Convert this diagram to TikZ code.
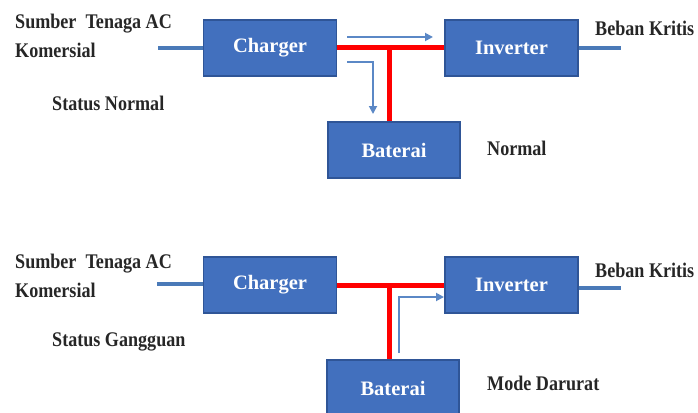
\documentclass[tikz,border=0pt]{standalone}
\usepackage{fontspec}
\setmainfont{Liberation Serif}
\newfontfamily\lblfont[FakeStretch=0.87]{Liberation Serif}
\usetikzlibrary{arrows.meta}
\definecolor{boxfill}{HTML}{4270BE}
\definecolor{boxedge}{HTML}{2F5597}
\definecolor{wire}{HTML}{4A7AB8}
\definecolor{flow}{HTML}{5B88C6}
\definecolor{bus}{HTML}{FF0000}
\tikzset{
  blk/.style={draw=boxedge, line width=1.5pt, fill=boxfill, minimum width=133pt, minimum height=56pt,
    inner sep=0pt, text=white, font=\fontsize{20.5}{22}\selectfont\bfseries},
  lbl/.style={anchor=base west, inner sep=0pt, font=\lblfont\fontsize{20.8}{22}\selectfont\bfseries, text=black!85},
  wireline/.style={draw=wire, line width=4pt},
  busline/.style={draw=bus, line width=5pt},
  flowarrow/.style={draw=flow, line width=1.8pt, -{Triangle[length=8pt,width=8pt]}}
}
\begin{document}
\begin{tikzpicture}[x=1pt,y=-1pt]
\useasboundingbox (0,0) rectangle (698,412);
\clip (0,0) rectangle (698,412);
% ---------- top: status normal ----------
\node[blk] (ch1) at (270,48) {Charger};
\node[blk] (inv1) at (511.5,48) {Inverter};
\node[blk, minimum width=132pt] (bat1) at (394,150) {Baterai};
\node[lbl] (src1a) at (15,29) {Sumber\ \ Tenaga AC};
\node[lbl] (src1b) at (15,57) {Komersial};
\node[lbl] (st1) at (52,110) {Status Normal};
\node[lbl] (load1) at (595,36) {Beban Kritis};
\node[lbl] (mode1) at (487,155) {Normal};
\coordinate (in1) at (158,48);
\coordinate (out1) at (621,48);
\draw[wireline] (in1) -- (ch1.west);
\draw[wireline] (inv1.east) -- (out1);
\draw[busline] (ch1.east) -- (inv1.west);
\coordinate (j1) at (389,48);
\draw[busline] (j1) -- (j1 |- bat1.north);
\coordinate (a1s) at (347,37);
\coordinate (a1e) at (433,37);
\draw[flowarrow] (a1s) -- (a1e);
\coordinate (a2s) at (347,62);
\coordinate (a2e) at (373,114);
\draw[flowarrow] (a2s) -| (a2e);
% ---------- bottom: status gangguan ----------
\node[blk] (ch2) at (270,285) {Charger};
\node[blk] (inv2) at (511.5,285) {Inverter};
\node[blk, minimum width=132pt] (bat2) at (393,388) {Baterai};
\node[lbl] (src2a) at (15,268) {Sumber\ \ Tenaga AC};
\node[lbl] (src2b) at (15,297) {Komersial};
\node[lbl] (st2) at (52,346) {Status Gangguan};
\node[lbl] (load2) at (595,277) {Beban Kritis};
\node[lbl] (mode2) at (487,390) {Mode Darurat};
\coordinate (in2) at (157,284);
\coordinate (out2) at (621,288);
\draw[wireline] (in2) -- (in2 -| ch2.west);
\draw[wireline] (inv2.east |- out2) -- (out2);
\draw[busline] (ch2.east) -- (inv2.west);
\coordinate (j2) at (389,285);
\draw[busline] (j2) -- (j2 |- bat2.north);
\coordinate (a3s) at (399,353);
\coordinate (a3e) at (444,297);
\draw[flowarrow] (a3s) |- (a3e);
\end{tikzpicture}
\end{document}
